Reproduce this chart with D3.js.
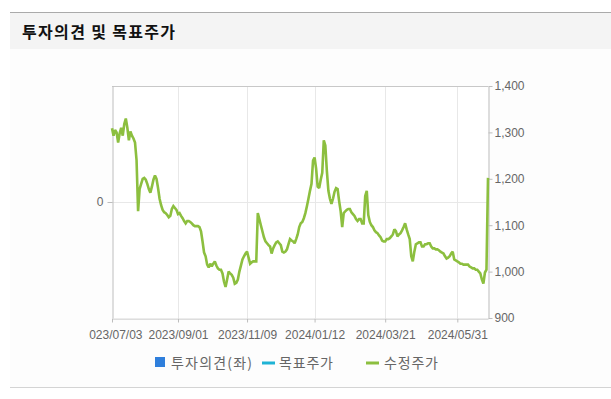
<!DOCTYPE html>
<html><head><meta charset="utf-8">
<script src="https://cdn.jsdelivr.net/npm/d3@7"></script>
<style>
body{margin:0;background:#fff;}
svg{display:block;}
</style></head><body>
<svg id="c" width="611" height="399"></svg>
<script>
const title = "투자의견 및 목표주가";
const tickLabels = ["2023/07/03","2023/09/01","2023/11/09","2024/01/12","2024/03/21","2024/05/31"];
const tickIndex = [0,43,88,132,178,225];
const rightTicks = [900,1000,1100,1200,1300,1400];
const leftTicks = [0];
const legendNames = ["투자의견(좌)","목표주가","수정주가"];
const prices = [
1309,1293,1305,1300,1278,1298,1310,1293,1318,1330,
1310,1283,1302,1293,1287,1278,1240,1130,1178,1189,
1200,1202,1198,1189,1178,1170,1183,1198,1207,1200,
1180,1157,1143,1133,1128,1126,1122,1117,1120,1135,
1141,1137,1133,1124,1126,1120,1115,1109,1104,1109,
1109,1107,1104,1100,1098,1098,1098,1096,1087,1065,
1041,1033,1015,1009,1017,1011,1017,1022,1013,1007,
1004,1004,996,978,967,983,1000,996,993,987,
974,976,983,1000,1013,1026,1033,1039,1043,1030,
1017,1020,1022,1022,1022,1126,1113,1100,1087,1074,
1065,1061,1057,1054,1039,1050,1057,1063,1065,1061,
1057,1043,1041,1043,1048,1059,1070,1067,1065,1061,
1070,1080,1096,1104,1107,1115,1126,1141,1157,1174,
1189,1239,1246,1222,1183,1180,1198,1213,1283,1272,
1217,1174,1157,1146,1157,1172,1180,1178,1152,1130,
1096,1126,1130,1133,1135,1135,1128,1124,1120,1113,
1109,1113,1113,1104,1104,1163,1174,1122,1107,1100,
1096,1089,1085,1083,1078,1074,1067,1065,1065,1070,
1070,1072,1076,1080,1091,1087,1076,1080,1083,1089,
1096,1104,1091,1080,1070,1033,1022,1043,1059,1061,
1063,1063,1054,1054,1059,1059,1061,1061,1054,1050,
1050,1048,1048,1046,1043,1041,1039,1033,1028,1030,
1033,1039,1043,1026,1024,1022,1020,1017,1017,1015,
1015,1015,1015,1011,1009,1007,1007,1004,1004,1000,
996,983,974,998,1004,1202
];

const svg = d3.select("#c");
const L = 112, R = 488, T = 86, B = 318;

// frame / header
svg.append("rect").attr("x",10).attr("y",12).attr("width",601).attr("height",376).attr("fill","#fdfdfd");
svg.append("rect").attr("x",10).attr("y",13).attr("width",601).attr("height",36).attr("fill","#f4f4f4");
svg.append("line").attr("x1",10).attr("x2",611).attr("y1",12.5).attr("y2",12.5).attr("stroke","#aaaaaa");
svg.append("line").attr("x1",10).attr("x2",611).attr("y1",387.5).attr("y2",387.5).attr("stroke","#d4d4d4");
svg.append("text").attr("x",22).attr("y",38).text(title)
  .attr("font-family","'Noto Sans CJK KR'").attr("font-weight","bold").attr("font-size","16px")
  .attr("textLength",153).attr("lengthAdjust","spacing").attr("fill","#111");

svg.append("rect").attr("x",L).attr("y",T).attr("width",R-L).attr("height",B-T).attr("fill","#fff");

const x = d3.scaleLinear().domain([0, prices.length-1]).range([L, R]);
const y = d3.scaleLinear().domain([900,1400]).range([B, T]);
const yl = d3.scaleLinear().domain([-1,1]).range([B, T]);

// grid
const g = svg.append("g");
g.selectAll(".vg").data(tickIndex.slice(1)).join("line")
  .attr("x1",d=>Math.round(x(d))+0.5).attr("x2",d=>Math.round(x(d))+0.5)
  .attr("y1",T).attr("y2",B).attr("stroke","#e8e8e8");
g.selectAll(".hg").data(leftTicks).join("line")
  .attr("x1",L).attr("x2",R).attr("y1",d=>Math.round(yl(d))+0.5).attr("y2",d=>Math.round(yl(d))+0.5).attr("stroke","#e8e8e8");
// top border
svg.append("line").attr("x1",L).attr("x2",R).attr("y1",T+0.5).attr("y2",T+0.5).attr("stroke","#c8c8c8");

const font = "'Liberation Sans', Arial, sans-serif";
// x axis
svg.append("clipPath").attr("id","cl").append("rect").attr("x",89).attr("y",0).attr("width",525).attr("height",399);
const xa = svg.append("g").attr("transform",`translate(0,${B+0.5})`).attr("clip-path","url(#cl)")
  .call(d3.axisBottom(x).tickValues(tickIndex).tickFormat((d,i)=>tickLabels[i]).tickSize(4).tickSizeOuter(0));
// left axis
const la = svg.append("g").attr("transform",`translate(${L+0.5},0)`)
  .call(d3.axisLeft(yl).tickValues(leftTicks).tickFormat(d3.format("d")).tickSize(5).tickSizeOuter(0).tickPadding(4));
// right axis
const ra = svg.append("g").attr("transform",`translate(${R+0.5},0)`)
  .call(d3.axisRight(y).tickValues(rightTicks).tickFormat(d3.format(",")).tickSize(4).tickSizeOuter(0).tickPadding(2));
[xa,la,ra].forEach(a=>{
  a.select(".domain").attr("stroke","#bdbdbd");
  a.selectAll(".tick line").attr("stroke","#bdbdbd");
  a.selectAll(".tick text").attr("fill","#666").attr("font-family",font).attr("font-size","12px");
});
xa.selectAll(".tick text").attr("dy","1.1em");

// price line
const line = d3.line().x((d,i)=>x(i)).y(d=>y(d));
svg.append("path").datum(prices).attr("d",line).attr("fill","none")
  .attr("stroke","#8cbf3f").attr("stroke-width",2.6).attr("stroke-linejoin","miter").attr("stroke-miterlimit",2);

// legend
const lg = svg.append("g").attr("font-family","'Noto Sans CJK KR'").attr("font-size","14px").attr("fill","#666");
lg.append("rect").attr("x",155).attr("y",357).attr("width",10).attr("height",10).attr("fill","#2f7fdc");
lg.append("text").attr("x",171).attr("y",368).attr("textLength",81).attr("lengthAdjust","spacing").text(legendNames[0]);
lg.append("line").attr("x1",262).attr("x2",275).attr("y1",363).attr("y2",363).attr("stroke","#1fb3d5").attr("stroke-width",3);
lg.append("text").attr("x",279).attr("y",368).attr("textLength",54).attr("lengthAdjust","spacing").text(legendNames[1]);
lg.append("line").attr("x1",366).attr("x2",379).attr("y1",363).attr("y2",363).attr("stroke","#8cbf3f").attr("stroke-width",3);
lg.append("text").attr("x",384).attr("y",368).attr("textLength",54).attr("lengthAdjust","spacing").text(legendNames[2]);
</script>
</body></html>
